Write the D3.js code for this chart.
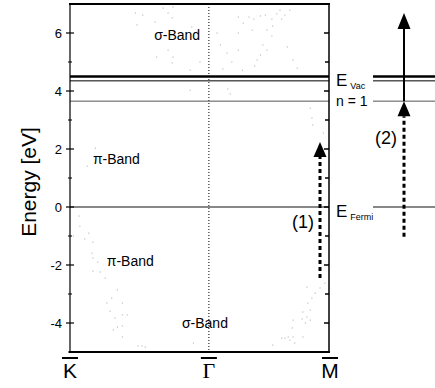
<!DOCTYPE html>
<html><head><meta charset="utf-8">
<script src="https://cdn.jsdelivr.net/npm/d3@7"></script>
<style>body{margin:0;background:#fff}svg{display:block}</style>
</head><body><svg id="c" width="435" height="388"></svg>
<script>
// ---- data ----
const energyTicks = [-4, -2, 0, 2, 4, 6];
const energyMinorTicks = [-5, -3, -1, 1, 3, 5];
const rightTicks = [-4, -3, -2, -1, 0, 1, 2, 3, 4, 5, 6];
const kPointNames = ["K", "Γ", "M"];
const kPointValues = [-1.70, 0, 1.47];
const energyVac = 4.5;
const energyVac2 = 4.35;
const energyN1 = 3.65;
const energyFermi = 0;
const bandLabelTexts = ["σ-Band", "π-Band", "π-Band", "σ-Band"];
const bandLabelK = [-0.67, -1.42, -1.25, -0.33];
const bandLabelE = [5.93, 1.66, -1.86, -4.0];
const arrow1K = 1.36;
const arrow1From = -2.45;
const arrow1To = 2.24;
const arrow2From = -1.03;
const arrow2Mid = 3.65;
const arrow2To = 6.69;
// faint measured band points [k, E]
const sigmaUpperDots = [[0.36,6.55],[0.42,6.34],[0.49,6.55],[0.55,6.48],[0.63,6.59],[0.69,6.62],[0.77,6.48],[0.83,6.66],[0.87,6.79],[0.89,6.48],[0.93,6.62],[0.99,6.79],[0.10,6.0],[0.36,6.0],[0.53,6.10],[0.71,6.10],[0.77,5.90],[0.78,6.24],[0.66,5.59],[0.71,5.41],[0.96,5.52],[0.14,5.59],[0.22,5.31],[0.36,5.41],[0.63,5.24],[1.03,5.07],[0.28,5.0],[0.59,5.07],[1.08,4.79],[0.17,4.76],[0.41,4.72],[0.56,4.86],[0.23,4.07],[0.26,3.90],[1.24,3.41]];
const sigmaLeftDots = [[-0.90,6.69],[-0.81,6.62],[-0.66,6.38],[-0.56,6.86],[-0.50,6.69],[-0.44,6.90],[-0.45,6.52],[-0.88,6.28],[-0.21,6.21],[-0.15,6.03],[-0.50,5.41],[-0.44,5.17],[-0.45,4.97],[-0.64,5.17],[-0.23,4.72],[-0.11,5.0],[-0.23,4.03]];
const piDots = [[-1.39,2.03],[-1.49,1.41],[-1.59,-0.31],[-1.58,-0.66],[-1.66,-1.0],[-1.47,-0.90],[-1.52,-1.10],[-1.42,-1.21],[-1.43,-1.59],[-1.42,-1.76],[-1.36,-1.90],[-1.42,-2.21],[-1.33,-2.24],[-1.27,-2.45],[-1.12,-2.86],[-1.19,-3.14],[-1.25,-3.31],[-1.06,-3.31],[-1.21,-3.59],[-1.15,-3.83],[-1.06,-3.72],[-1.00,-3.72],[-1.12,-4.14],[-1.06,-4.10],[-1.17,-4.24],[-1.06,-4.48],[-0.87,-4.79],[-0.82,-4.79],[-0.78,-4.83],[-0.19,-4.69]];
const lowerRightDots = [[1.26,3.07],[1.27,2.83],[1.40,2.55],[1.42,-2.62],[1.36,-2.79],[1.20,-2.76],[1.30,-2.97],[1.26,-3.14],[1.21,-3.31],[1.24,-3.55],[1.15,-3.62],[1.20,-3.79],[1.14,-3.86],[1.24,-3.90],[1.18,-4.0],[1.03,-3.90],[1.02,-4.17],[0.97,-4.48],[1.03,-4.48],[0.93,-4.52],[0.99,-4.59],[1.15,-4.48],[0.78,-4.76],[0.89,-4.52],[1.05,-4.69]];

// ---- layout ----
const svg = d3.select("#c");
const FONT = "'Liberation Sans', Arial, sans-serif";
const x = d3.scaleLinear().domain([-1.70, 1.47]).range([70, 329]);
const y = d3.scaleLinear().domain([-5, 7]).range([352, 4]);
const panelX0 = 373, panelX1 = 435, arrow2X = 404;

// dots
const allDots = sigmaUpperDots.concat(sigmaLeftDots, piDots, lowerRightDots);
svg.append("g").selectAll("rect").data(allDots).join("rect")
  .attr("x", d => x(d[0]) - 0.5).attr("y", d => y(d[1]) - 0.5)
  .attr("width", 1.1).attr("height", 1.1).attr("fill", "#b4b4b4");

// Gamma dotted line
svg.append("line").attr("x1", x(0)).attr("x2", x(0)).attr("y1", y(7)).attr("y2", y(-5))
  .attr("stroke", "#000").attr("stroke-width", 1).attr("stroke-dasharray", "1,2");

// horizontal levels in band panel and right panel
function hline(x1, x2, e, w, c) {
  svg.append("line").attr("x1", x1).attr("x2", x2).attr("y1", y(e)).attr("y2", y(e))
    .attr("stroke", c).attr("stroke-width", w);
}
[[70, 329], [panelX0, panelX1]].forEach(([a, b]) => {
  hline(a, b, energyVac, 2.4, "#000");
  hline(a, b, energyVac2, 1, "#000");
  hline(a, b, energyN1, 1, "#555");
  hline(a, b, energyFermi, 1, "#111");
});

// frame
svg.append("line").attr("x1", 70).attr("x2", 70).attr("y1", y(7)).attr("y2", y(-5)).attr("stroke", "#000").attr("stroke-width", 1.2);
svg.append("line").attr("x1", 329).attr("x2", 329).attr("y1", y(7)).attr("y2", y(-5)).attr("stroke", "#000").attr("stroke-width", 1.5);
svg.append("line").attr("x1", 69).attr("x2", 330).attr("y1", y(7)).attr("y2", y(7)).attr("stroke", "#000").attr("stroke-width", 2);
svg.append("line").attr("x1", 69).attr("x2", 330).attr("y1", y(-5)).attr("y2", y(-5)).attr("stroke", "#000").attr("stroke-width", 2);

// left axis ticks
const gL = svg.append("g");
gL.selectAll(".maj").data(energyTicks).join("line")
  .attr("x1", 66).attr("x2", 74).attr("y1", d => y(d)).attr("y2", d => y(d))
  .attr("stroke", "#000").attr("stroke-width", 1.2);
gL.selectAll(".min").data(energyMinorTicks).join("line")
  .attr("x1", 68).attr("x2", 72).attr("y1", d => y(d)).attr("y2", d => y(d))
  .attr("stroke", "#000").attr("stroke-width", 1);
gL.selectAll("text").data(energyTicks).join("text")
  .attr("x", 62).attr("y", d => y(d)).attr("dy", "0.35em").attr("text-anchor", "end")
  .attr("font-family", FONT).attr("font-size", 13).text(d => d);

// right axis ticks (inward)
svg.append("g").selectAll("line").data(rightTicks).join("line")
  .attr("x1", d => d % 2 === 0 ? 324 : 325).attr("x2", 329)
  .attr("y1", d => y(d)).attr("y2", d => y(d))
  .attr("stroke", "#000").attr("stroke-width", 1.5);

// axis title
svg.append("text").attr("transform", `translate(36,${(y(7) + y(-5)) / 2 + 4}) rotate(-90)`)
  .attr("text-anchor", "middle").attr("font-family", FONT).attr("font-size", 21)
  .text("Energy [eV]");

// k point labels with overbars
kPointNames.forEach((n, i) => {
  const cx = x(kPointValues[i]) + (i === 2 ? 1 : 0);
  svg.append("text").attr("x", cx).attr("y", 378).attr("text-anchor", "middle")
    .attr("font-family", n === "Γ" ? "'Liberation Serif', serif" : FONT)
    .attr("font-size", n === "Γ" ? 22 : 21).text(n);
  svg.append("line").attr("x1", cx - 8).attr("x2", cx + 8).attr("y1", 358).attr("y2", 358)
    .attr("stroke", "#000").attr("stroke-width", 2);
});

// band labels
bandLabelTexts.forEach((t, i) => {
  svg.append("text").attr("x", x(bandLabelK[i])).attr("y", y(bandLabelE[i])).attr("dy", "0.36em")
    .attr("font-family", FONT).attr("font-size", 14).attr("fill", "#000").text(t);
});

// arrows
function head(cx, tipE, hw, hl) {
  const t = y(tipE);
  svg.append("path").attr("d", `M${cx},${t}L${cx - hw},${t + hl}L${cx + hw},${t + hl}Z`).attr("fill", "#000");
  return t + hl;
}
const a1x = x(arrow1K);
const a1base = head(a1x, arrow1To, 6.5, 15);
svg.append("line").attr("x1", a1x).attr("x2", a1x).attr("y1", y(arrow1From)).attr("y2", a1base)
  .attr("stroke", "#000").attr("stroke-width", 3).attr("stroke-dasharray", "4,3");
const a2base = head(arrow2X, arrow2Mid, 6.5, 15);
svg.append("line").attr("x1", arrow2X).attr("x2", arrow2X).attr("y1", y(arrow2From)).attr("y2", a2base)
  .attr("stroke", "#000").attr("stroke-width", 3).attr("stroke-dasharray", "4,3");
const a2topBase = head(arrow2X, arrow2To, 6.5, 16);
svg.append("line").attr("x1", arrow2X).attr("x2", arrow2X).attr("y1", y(arrow2Mid)).attr("y2", a2topBase)
  .attr("stroke", "#000").attr("stroke-width", 2);

// arrow labels
svg.append("text").attr("x", a1x - 6).attr("y", y(0) + 15).attr("dy", "0.35em").attr("text-anchor", "end")
  .attr("font-family", FONT).attr("font-size", 18).text("(1)");
svg.append("text").attr("x", arrow2X - 7).attr("y", y(2.4)).attr("dy", "0.35em").attr("text-anchor", "end")
  .attr("font-family", FONT).attr("font-size", 18).text("(2)");

// level labels
function levelLabel(e, main, sub, dyMain) {
  const t = svg.append("text").attr("x", 336).attr("y", y(e) + dyMain).attr("font-family", FONT);
  t.append("tspan").attr("font-size", 17).text(main);
  if (sub) t.append("tspan").attr("font-size", 9).attr("dx", 3).attr("dy", 3).text(sub);
}
levelLabel(energyVac2, "E", "Vac", 5);
svg.append("text").attr("x", 336).attr("y", y(energyN1)).attr("dy", "0.35em")
  .attr("font-family", FONT).attr("font-size", 14).text("n = 1");
levelLabel(energyFermi, "E", "Fermi", 10);
</script></body></html>
